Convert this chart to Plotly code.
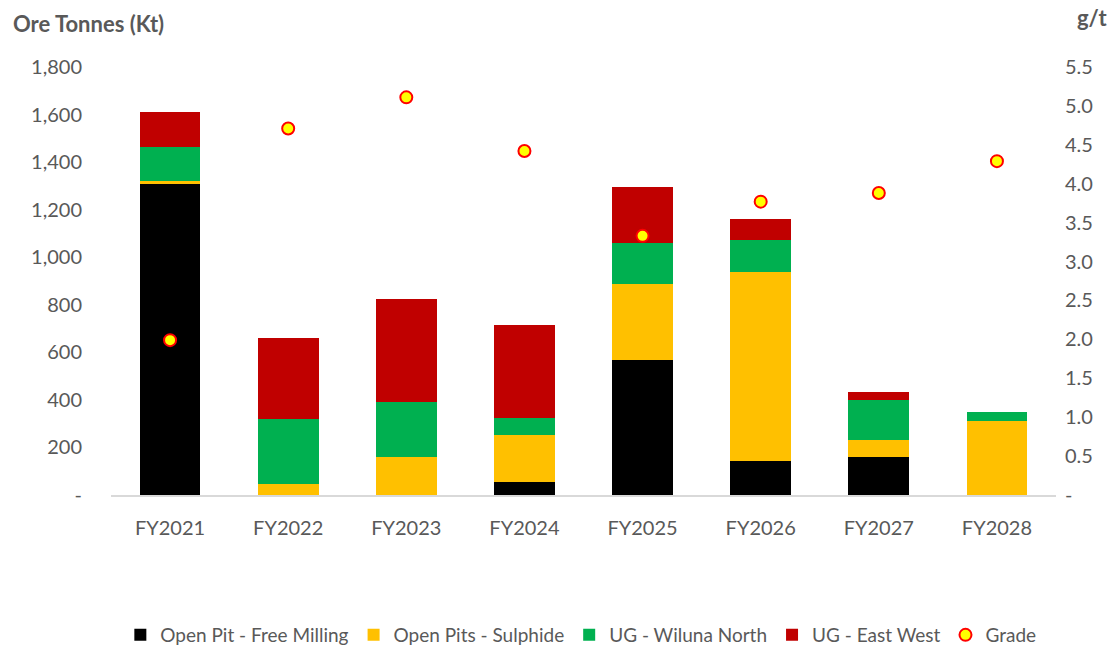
import plotly.graph_objects as go

years = ["FY2021", "FY2022", "FY2023", "FY2024", "FY2025", "FY2026", "FY2027", "FY2028"]
open_pit_free = [1310, 0, 0, 56, 568, 144, 158, 0]
open_pit_sulphide = [11, 48, 158, 197, 318, 794, 73, 312]
ug_wiluna_north = [143, 273, 234, 69, 173, 134, 167, 38]
ug_east_west = [145, 338, 434, 392, 237, 89, 35, 0]
grade = [1.99, 4.71, 5.11, 4.42, 3.33, 3.77, 3.88, 4.29]

left_ticks = [0, 200, 400, 600, 800, 1000, 1200, 1400, 1600, 1800]
left_ticktext = ["-", "200", "400", "600", "800", "1,000", "1,200", "1,400", "1,600", "1,800"]
right_ticks = [0, 0.5, 1.0, 1.5, 2.0, 2.5, 3.0, 3.5, 4.0, 4.5, 5.0, 5.5]
right_ticktext = ["-", "0.5", "1.0", "1.5", "2.0", "2.5", "3.0", "3.5", "4.0", "4.5", "5.0", "5.5"]

FONT = "Lato"
GREY = "#595959"

fig = go.Figure()
series = [
    ("Open Pit - Free Milling", open_pit_free, "#000000"),
    ("Open Pits - Sulphide", open_pit_sulphide, "#FFC000"),
    ("UG - Wiluna North", ug_wiluna_north, "#00B050"),
    ("UG - East West", ug_east_west, "#C00000"),
]
for name, vals, col in series:
    fig.add_trace(go.Bar(x=years, y=vals, name=name, marker=dict(color=col, line=dict(width=0))))

fig.add_trace(go.Scatter(
    x=years, y=grade, name="Grade", mode="markers", yaxis="y2",
    marker=dict(color="#FFFF00", size=12, line=dict(color="#FF0000", width=2)),
))

fig.update_layout(
    width=1117, height=650,
    barmode="stack", bargap=0.486,
    plot_bgcolor="white", paper_bgcolor="white",
    margin=dict(l=111, r=61, t=67, b=155, autoexpand=False),
    font=dict(family=FONT, size=20, color=GREY),
    xaxis=dict(showline=True, linecolor="#D9D9D9", linewidth=1.5, showgrid=False,
               ticks="", ticklabelstandoff=14, tickfont=dict(size=20, color=GREY)),
    yaxis=dict(range=[0, 1800], tickvals=left_ticks, ticktext=left_ticktext,
               showgrid=False, zeroline=False, ticks="", ticklabelstandoff=28,
               tickfont=dict(size=20, color=GREY)),
    yaxis2=dict(range=[0, 5.5], tickvals=right_ticks, ticktext=right_ticktext,
                overlaying="y", side="right", showgrid=False, zeroline=False, ticks="",
                ticklabelstandoff=8, tickfont=dict(size=20, color=GREY)),
    legend=dict(orientation="h", x=0.52, xref="container", xanchor="center",
                yref="container", y=1 - 635 / 650, yanchor="middle",
                font=dict(size=19, color=GREY), traceorder="normal", itemwidth=30),
    showlegend=True,
    annotations=[
        dict(text="<b>Ore Tonnes (Kt)</b>", xref="paper", yref="paper", x=-100 / 945, y=1 + 44 / 428.5,
             xanchor="left", yanchor="middle", showarrow=False, font=dict(size=22, color=GREY)),
        dict(text="<b>g/t</b>", xref="paper", yref="paper", x=1 + 54 / 945, y=1 + 50 / 428.5,
             xanchor="right", yanchor="middle", showarrow=False, font=dict(size=22, color=GREY)),
    ],
)

fig.write_html("out.html")
